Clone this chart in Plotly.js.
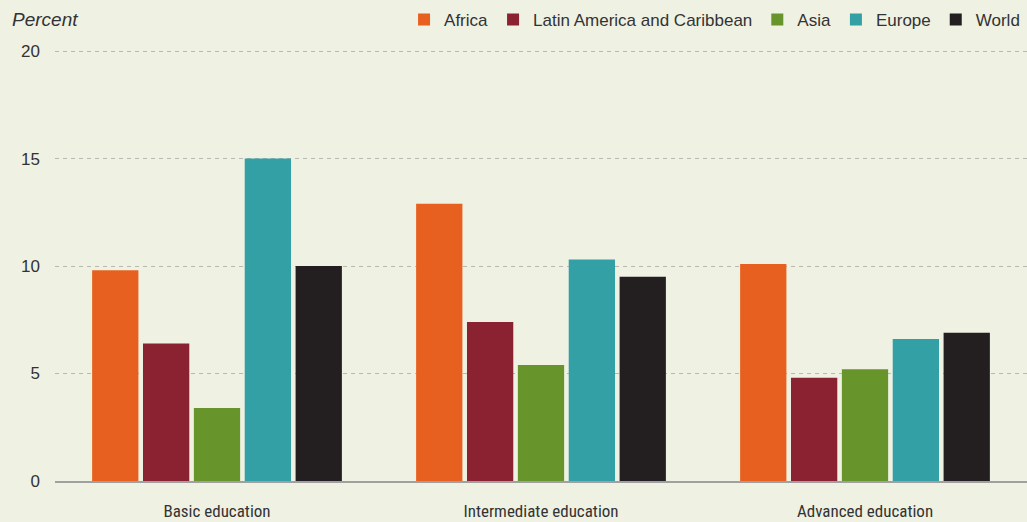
<!DOCTYPE html>
<html>
<head>
<meta charset="utf-8">
<script src="https://cdn.plot.ly/plotly-3.0.1.min.js"></script>
<style>html,body{margin:0;padding:0;background:#eff1e3;}#chart{width:1027px;height:522px;}</style>
</head>
<body>
<div id="chart"></div>
<script>
const categories = ["Basic education", "Intermediate education", "Advanced education"];
const seriesNames = ["Africa", "Latin America and Caribbean", "Asia", "Europe", "World"];
const africa = [9.8, 12.9, 10.1];
const latinAmerica = [6.4, 7.4, 4.8];
const asia = [3.4, 5.4, 5.2];
const europe = [15.0, 10.3, 6.6];
const world = [10.0, 9.5, 6.9];
const yTicks = [0, 5, 10, 15, 20];
const colors = ["#e8601f", "#8b2232", "#67952b", "#33a0a6", "#231f20"];

const values = [africa, latinAmerica, asia, europe, world];
const traces = values.map((v, i) => ({
  type: "bar",
  name: seriesNames[i],
  x: categories,
  y: v,
  marker: {color: colors[i], line: {width: 0}},
  hoverinfo: "y+name"
}));

const layout = {
  width: 1027, height: 522,
  paper_bgcolor: "#eff1e3", plot_bgcolor: "#eff1e3",
  margin: {l: 55, r: 0, t: 50, b: 41, autoexpand: false},
  barmode: "group", bargap: 0.215, bargroupgap: 0.09,
  font: {family: "Liberation Sans, Arial, sans-serif", color: "#333", size: 17},
  xaxis: {
    showgrid: false, showline: true, linecolor: "#a0a0a0", linewidth: 1.5,
    ticks: "", zeroline: false, ticklabelstandoff: 14,
    tickfont: {family: "Liberation Sans Narrow, Roboto Condensed, Liberation Sans, sans-serif", size: 17, color: "#333"}
  },
  yaxis: {
    range: [0, 20.05], tickvals: yTicks, ticktext: yTicks.map(String),
    showgrid: true, gridcolor: "#b8b8b0", griddash: "4px,4px", gridwidth: 1,
    zeroline: false, showline: false, ticks: "", ticklabelstandoff: 14,
    tickfont: {size: 17, color: "#333"}, fixedrange: true
  },
  legend: {
    orientation: "h", x: 0.998, xanchor: "right", y: 1.07, yanchor: "middle",
    font: {size: 17, color: "#333"}, bgcolor: "rgba(0,0,0,0)",
    itemclick: false, traceorder: "normal", itemwidth: 30
  },
  annotations: [{
    text: "Percent", xref: "paper", yref: "paper", x: -0.046, xanchor: "left",
    y: 1.07, yanchor: "middle", showarrow: false,
    font: {size: 19, color: "#333", family: "Liberation Sans, Arial, sans-serif", style: "italic"}
  }],
  showlegend: true
};

Plotly.newPlot("chart", traces, layout, {displayModeBar: false, staticPlot: true});
</script>
</body>
</html>
